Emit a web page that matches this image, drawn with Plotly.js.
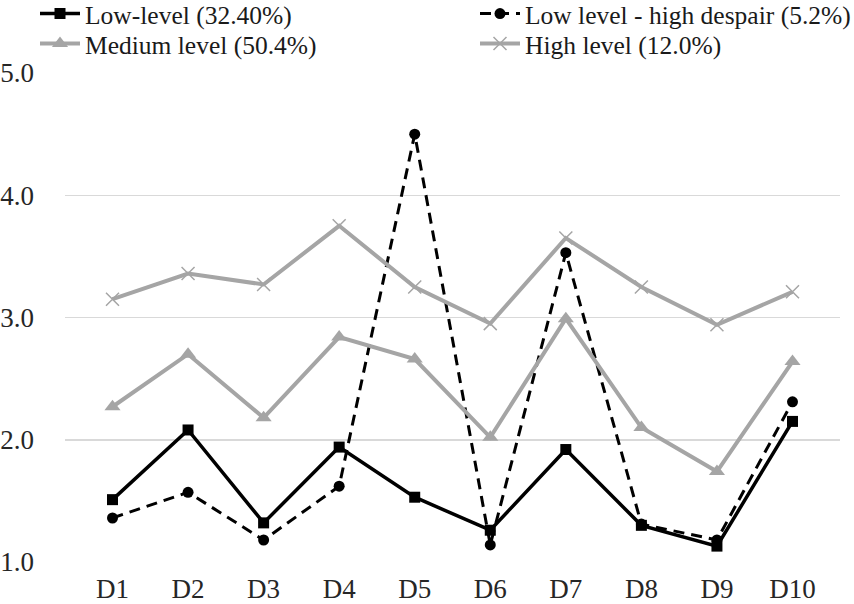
<!DOCTYPE html>
<html>
<head>
<meta charset="utf-8">
<script src="https://cdn.plot.ly/plotly-3.0.1.min.js"></script>
<style>html,body{margin:0;padding:0;background:#fff;}#chart{width:854px;height:604px;}</style>
</head>
<body>
<div id="chart"></div>
<script>
var categories = ["D1","D2","D3","D4","D5","D6","D7","D8","D9","D10"];
var seriesNames = ["Low-level (32.40%)", "Low level - high despair (5.2%)", "Medium level (50.4%)", "High level (12.0%)"];
var lowLevel = [1.51, 2.08, 1.32, 1.94, 1.53, 1.26, 1.92, 1.30, 1.13, 2.15];
var lowDespair = [1.36, 1.57, 1.18, 1.62, 4.50, 1.14, 3.53, 1.31, 1.18, 2.31];
var mediumLevel = [2.27, 2.70, 2.18, 2.84, 2.66, 2.02, 2.99, 2.10, 1.74, 2.64];
var highLevel = [3.15, 3.36, 3.27, 3.75, 3.25, 2.95, 3.65, 3.25, 2.94, 3.21];
var yTicks = [1, 2, 3, 4, 5];
var yTickLabels = ["1.0", "2.0", "3.0", "4.0", "5.0"];

var gray = "#a5a5a5";
var serif = "'Liberation Serif', Tinos, 'Times New Roman', serif";
var traces = [
  {x: categories, y: lowLevel, name: seriesNames[0], type: "scatter", mode: "lines+markers", legend: "legend",
   line: {color: "#000", width: 3.5}, marker: {symbol: "square", size: 11, color: "#000"}},
  {x: categories, y: lowDespair, name: seriesNames[1], type: "scatter", mode: "lines+markers", legend: "legend2",
   line: {color: "#000", width: 3, dash: "11px,7px"}, marker: {symbol: "circle", size: 11, color: "#000"}},
  {x: categories, y: mediumLevel, name: seriesNames[2], type: "scatter", mode: "lines+markers", legend: "legend3",
   line: {color: gray, width: 4}, marker: {symbol: "triangle-up", size: 14, color: gray}},
  {x: categories, y: highLevel, name: seriesNames[3], type: "scatter", mode: "lines+markers", legend: "legend4",
   line: {color: gray, width: 4}, marker: {symbol: "x-thin", size: 13, color: gray, line: {color: gray, width: 1.5}}}
];

function legendAt(xpx, ypx) {
  return {
    orientation: "v", xref: "container", yref: "container",
    x: xpx / 854, y: 1 - ypx / 604, xanchor: "left", yanchor: "middle",
    font: {family: serif, size: 25.5, color: "#1a1a1a"},
    itemwidth: 40, tracegroupgap: 0, bgcolor: "rgba(0,0,0,0)", borderwidth: 0
  };
}

var layout = {
  width: 854, height: 604,
  margin: {l: 65, r: 14, t: 73, b: 42, pad: 0, autoexpand: false},
  paper_bgcolor: "#fff", plot_bgcolor: "#fff",
  font: {family: serif, size: 26, color: "#262626"},
  showlegend: true,
  legend: legendAt(35, 14),
  legend2: legendAt(475, 14),
  legend3: legendAt(35, 44),
  legend4: legendAt(475, 44),
  xaxis: {
    type: "category", showgrid: false, zeroline: false, showline: false,
    ticks: "", ticklabelstandoff: 8,
    tickfont: {family: serif, size: 27, color: "#262626"}, fixedrange: true
  },
  yaxis: {
    range: [1, 5], tickvals: yTicks, ticktext: yTickLabels,
    showgrid: true, gridcolor: "#d9d9d9", gridwidth: 1.5,
    zeroline: false, showline: false, ticks: "",
    ticklabelstandoff: 30, tickfont: {family: serif, size: 27, color: "#262626"}, fixedrange: true
  }
};

Plotly.newPlot("chart", traces, layout, {displayModeBar: false, staticPlot: true});
</script>
</body>
</html>
